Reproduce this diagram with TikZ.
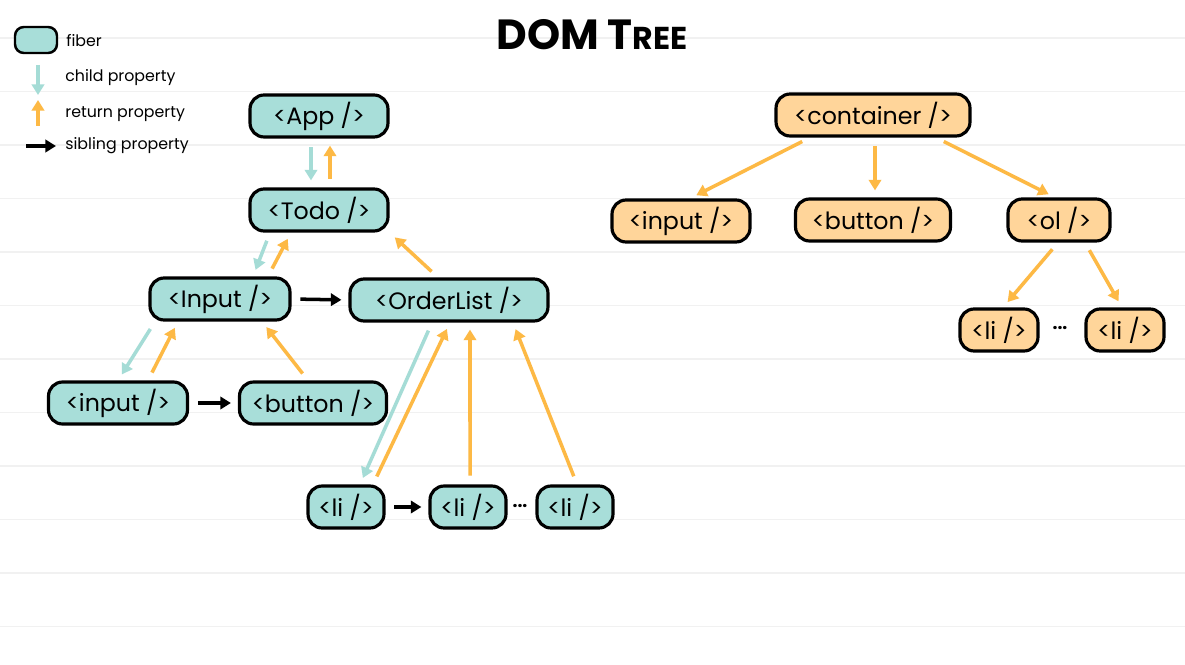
\documentclass[tikz,border=0pt]{standalone}
\usepackage{fontspec}
\setmainfont{Poppins}
\usepackage{xcolor}
\usepackage{tikz}
\usetikzlibrary{shapes,arrows,arrows.meta}
\usetikzlibrary{positioning}
\definecolor{fibercol}{HTML}{A8DED9}
\definecolor{domcol}{HTML}{FFD59A}
\definecolor{childcol}{HTML}{A5DCD6}
\definecolor{returncol}{HTML}{FDB945}
\definecolor{gridcol}{HTML}{F1F1F1}
\tikzstyle{fiber} = [rectangle, draw, line width=1.8pt, fill=fibercol,
    rounded corners=8pt, minimum height=0.84cm, inner sep=0pt,
    font=\fontsize{13.5}{16}\selectfont]
\tikzstyle{dom} = [fiber, fill=domcol]
\tikzstyle{childline} = [draw=childcol, line width=2pt,
    -{Triangle[length=6pt,width=7pt]}, shorten >=4pt, shorten <=5pt]
\tikzstyle{returnline} = [childline, draw=returncol]
\tikzstyle{siblingline} = [childline, draw=black]
\tikzstyle{keyline} = [shorten >=0pt, shorten <=0pt]
\tikzstyle{legend} = [anchor=west, inner sep=0pt, font=\fontsize{9}{11}\selectfont]

\begin{document}
\begin{tikzpicture}[x=0.02cm, y=-0.02cm]
  % Paper
  \fill[white] (0,0) rectangle (1185,665);
  \useasboundingbox (0,0) rectangle (1185,665);
  \foreach \k in {0,...,11}
    \draw[gridcol, line width=0.6pt] (0,38+53.5*\k) -- (1185,38+53.5*\k);

  % Legend
  \node [fiber, minimum width=0.84cm, minimum height=0.52cm, line width=1.4pt, rounded corners=5pt] (keyfiber) at (36,40) {};
  \node [legend] (keyfibertext) at (66,41) {fiber};
  \coordinate (childtop) at (38,65);
  \coordinate (childbot) at (38,95);
  \coordinate (rettop) at (38,100);
  \coordinate (retbot) at (38,126);
  \coordinate (sibleft) at (26,146);
  \coordinate (sibright) at (56,146);
  \draw [childline, keyline] (childtop) -- (childbot);
  \draw [returnline, keyline] (retbot) -- (rettop);
  \draw [siblingline, keyline] (sibleft) -- (sibright);
  \node [legend] (keychild) at (65,78) {child property};
  \node [legend] (keyreturn) at (65,114) {return property};
  \node [legend] (keysibling) at (65,146) {sibling property};

  % Title
  \node [font=\fontsize{24}{28}\selectfont\bfseries] (title) at (592,35) {DOM T{\fontsize{18}{20}\selectfont REE}};

  % Place fiber nodes
  \node [fiber, minimum width=2.76cm] (app) at (319,116) {<App />};
  \node [fiber, minimum width=2.76cm] (todo) at (319,210) {<Todo />};
  \node [fiber, minimum width=2.8cm] (input) at (220,299) {<Input />};
  \node [fiber, minimum width=3.96cm] (orderlist) at (449,300) {<OrderList />};
  \node [fiber, minimum width=2.78cm] (inputtag) at (118,403) {<input />};
  \node [fiber, minimum width=2.94cm] (buttontag) at (313,403) {<button />};
  \node [fiber, minimum width=1.52cm] (lione) at (346,507) {<li />};
  \node [fiber, minimum width=1.52cm] (litwo) at (468,507) {<li />};
  \node [fiber, minimum width=1.52cm] (lithree) at (575,507) {<li />};
  \node [font=\bfseries] (fiberdots) at (520,506) {...};

  % Fiber links
  \draw [childline] ([xshift=-0.16cm]app.south) -- ([xshift=-0.16cm]todo.north);
  \draw [returnline] ([xshift=0.22cm]todo.north) -- ([xshift=0.22cm]app.south);
  \draw [childline] ([xshift=-0.98cm]todo.south) -- ([xshift=0.66cm]input.north);
  \draw [returnline] ([xshift=0.96cm]input.north) -- ([xshift=-0.56cm]todo.south);
  \draw [returnline] ([xshift=-0.22cm]orderlist.north) -- (todo.south east);
  \draw [siblingline] (input.east) -- (orderlist.west);
  \draw [childline] ([xshift=-1.3cm]input.south) -- (inputtag.north);
  \draw [returnline] ([xshift=0.6cm]inputtag.north) -- ([xshift=-0.84cm]input.south);
  \draw [returnline] ([xshift=-0.1cm]buttontag.north) -- ([xshift=0.84cm]input.south);
  \draw [siblingline] (inputtag.east) -- (buttontag.west);
  \draw [childline] ([xshift=-0.34cm]orderlist.south) -- ([xshift=0.28cm]lione.north);
  \draw [returnline] ([xshift=0.54cm]lione.north) -- ([xshift=0.02cm]orderlist.south);
  \draw [returnline] ([xshift=0.04cm]litwo.north) -- ([xshift=0.42cm]orderlist.south);
  \draw [returnline] ([xshift=0.04cm]lithree.north) -- ([xshift=1.28cm]orderlist.south);
  \draw [siblingline] (lione.east) -- (litwo.west);

  % Place DOM nodes
  \node [dom, minimum width=3.88cm] (container) at (873,115) {<container />};
  \node [dom, minimum width=2.76cm] (dominput) at (681,221) {<input />};
  \node [dom, minimum width=3.1cm] (dombutton) at (873,220) {<button />};
  \node [dom, minimum width=2.04cm] (domol) at (1059,220) {<ol />};
  \node [dom, minimum width=1.56cm] (domlia) at (999,330) {<li />};
  \node [dom, minimum width=1.56cm] (domlib) at (1125,330) {<li />};
  \node [font=\bfseries] (domdots) at (1060,328) {...};

  % DOM links
  \draw [returnline] ([xshift=-1.26cm]container.south) -- ([xshift=0.18cm]dominput.north);
  \draw [returnline] ([xshift=0.04cm]container.south) -- ([xshift=0.04cm]dombutton.north);
  \draw [returnline] ([xshift=1.26cm]container.south) -- ([xshift=-0.08cm]domol.north);
  \draw [returnline] ([xshift=-0.02cm]domol.south) -- ([xshift=0.08cm]domlia.north);
  \draw [returnline] ([xshift=0.52cm]domol.south) -- ([xshift=-0.06cm]domlib.north);
\end{tikzpicture}
\end{document}
